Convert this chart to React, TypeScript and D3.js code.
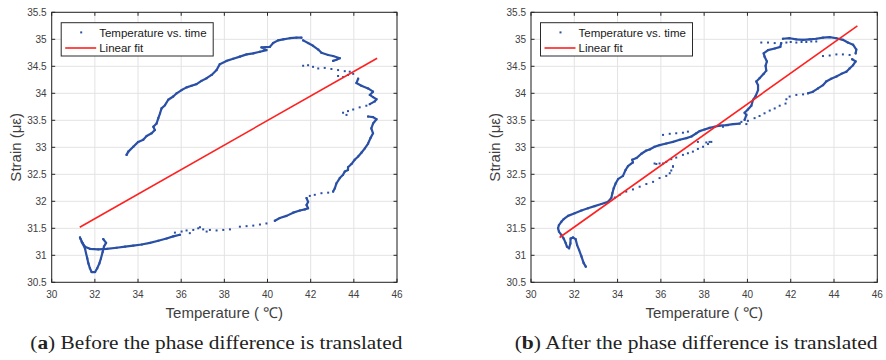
import React from 'react';
import * as d3 from 'd3';

type P = [number, number];

const xTicks = [30, 32, 34, 36, 38, 40, 42, 44, 46];
const yTicks = [30.5, 31, 31.5, 32, 32.5, 33, 33.5, 34, 34.5, 35, 35.5];
const xTickLabels = ['30', '32', '34', '36', '38', '40', '42', '44', '46'];
const yTickLabels = ['30.5', '31', '31.5', '32', '32.5', '33', '33.5', '34', '34.5', '35', '35.5'];
const legendLabels = ['Temperature vs. time', 'Linear fit'];

// ---- Panel (a): before translation ----
const leftDense: P[][] = [
  [[33.47,32.86],[33.55,32.92],[33.78,33.01],[34.01,33.10],[34.24,33.14],[34.40,33.21],[34.63,33.26],[34.78,33.32],[34.71,33.38],[34.86,33.44],[34.94,33.54],[35.02,33.63],[35.09,33.72],[35.25,33.78],[35.40,33.88],[35.63,33.94],[35.79,34.00],[36.02,34.06],[36.25,34.11],[36.48,34.14],[36.71,34.17],[36.94,34.23],[37.18,34.28],[37.41,34.34],[37.64,34.43],[37.79,34.54],[38.10,34.60],[38.41,34.64],[38.72,34.68],[39.03,34.72],[39.34,34.74],[39.65,34.77],[39.95,34.80],[39.72,34.85],[40.11,34.86],[40.26,34.93],[40.49,34.98],[40.73,35.00],[41.03,35.02],[41.34,35.03],[41.57,35.03]],
  [[41.65,34.98],[41.88,34.93],[42.11,34.88],[42.35,34.81],[42.50,34.75],[42.81,34.71],[43.04,34.69],[43.35,34.65],[43.19,34.62],[43.04,34.60]],
  [[44.20,34.27],[44.12,34.19],[44.35,34.14],[44.66,34.09],[44.89,34.03],[44.74,33.97],[44.89,33.93],[45.05,33.89],[44.97,33.85],[44.74,33.80]],
  [[44.66,33.57],[44.89,33.56],[45.05,33.52],[44.89,33.44],[44.81,33.35],[44.89,33.26],[44.77,33.17],[44.66,33.07],[44.51,32.98],[44.35,32.90],[44.20,32.83],[44.04,32.77],[43.89,32.69],[43.73,32.63],[43.73,32.58],[43.58,32.55],[43.50,32.49],[43.35,32.43],[43.19,32.33],[43.12,32.24],[43.04,32.18]],
  [[41.81,32.06],[41.88,31.99],[41.81,31.93],[41.88,31.87],[41.73,31.85],[41.50,31.83],[41.19,31.79],[40.88,31.73],[40.57,31.69],[40.34,31.64]],
  [[35.94,31.38],[35.63,31.35],[35.32,31.31],[34.94,31.27],[34.55,31.23],[34.17,31.20],[33.78,31.18],[33.40,31.16],[33.01,31.14],[32.55,31.12],[32.16,31.11],[31.77,31.12],[31.54,31.16],[31.44,31.22],[31.34,31.30],[31.31,31.33]],
  [[31.39,31.25],[31.54,31.13],[31.59,31.04],[31.65,30.94],[31.70,30.85],[31.77,30.76],[31.85,30.69],[32.01,30.69],[32.11,30.76],[32.21,30.85],[32.28,30.94],[32.36,31.06],[32.42,31.16],[32.52,31.23],[32.39,31.30]],
];
const leftSparse: P[] = [
  [41.65,34.51],[41.88,34.52],[42.11,34.49],[42.35,34.46],[42.65,34.47],[42.96,34.45],[43.27,34.43],[43.58,34.41],[43.81,34.40],
  [43.27,34.32],[43.50,34.30],[43.73,34.34],[43.97,34.36],
  [44.58,33.77],[44.27,33.74],[43.97,33.70],[43.73,33.67],[43.50,33.64],[43.66,33.60],
  [42.81,32.16],[42.50,32.15],[42.19,32.12],[41.96,32.10],
  [39.95,31.59],[39.65,31.57],[39.34,31.55],[39.03,31.54],[38.72,31.53],[38.26,31.48],[37.95,31.47],[37.64,31.46],[37.33,31.47],[37.02,31.48],[36.79,31.50],[36.56,31.47],[36.25,31.46],[36.02,31.44],[35.71,31.42],[36.87,31.52],[37.18,31.44],[36.40,31.41],
];
const leftFit: P[] = [[31.30, 31.52], [45.08, 34.65]];

// ---- Panel (b): after translation ----
const rightDense: P[][] = [
  [[32.53,30.79],[32.43,30.86],[32.33,30.98],[32.22,31.10],[32.13,31.19],[32.06,31.30],[31.94,31.33],[31.83,31.31],[31.82,31.22],[31.76,31.13],[31.66,31.16],[31.60,31.23],[31.51,31.31],[31.40,31.38],[31.29,31.44],[31.25,31.50],[31.29,31.56],[31.40,31.62],[31.51,31.67],[31.71,31.73],[32.02,31.78],[32.33,31.83],[32.63,31.87],[32.94,31.91],[33.25,31.95],[33.56,31.99],[33.71,32.06],[33.76,32.15],[33.82,32.24],[33.91,32.33],[34.02,32.41],[34.25,32.47],[34.37,32.58],[34.48,32.65],[34.71,32.72],[34.68,32.77],[34.87,32.80],[35.10,32.88],[35.33,32.94],[35.48,32.96],[35.71,33.01],[35.94,33.04],[36.25,33.07],[36.56,33.10],[36.87,33.14],[37.18,33.17],[37.41,33.20],[37.64,33.26],[37.79,33.30],[38.02,33.33],[38.25,33.36],[38.48,33.38],[38.72,33.40],[39.02,33.41],[39.33,33.43],[39.64,33.44]],
  [[39.87,33.51],[39.95,33.60],[39.87,33.64],[40.02,33.70],[40.18,33.77],[40.26,33.88],[40.38,33.95],[40.49,34.06],[40.49,34.15],[40.41,34.22],[40.56,34.28],[40.75,34.36],[40.87,34.42],[40.84,34.51],[40.90,34.59],[40.79,34.68],[40.75,34.74],[40.95,34.80],[41.26,34.83],[41.52,34.86],[41.56,34.93]],
  [[41.64,35.01],[41.95,35.02],[42.26,35.00],[42.57,34.99],[42.87,35.00],[43.18,35.01],[43.49,35.03],[43.80,35.04],[44.11,35.02],[44.41,34.99],[44.64,34.94],[44.88,34.90],[45.03,34.81],[45.00,34.74]],
  [[44.84,34.63],[45.00,34.59],[44.88,34.52],[44.72,34.46],[44.57,34.40],[44.34,34.36],[44.11,34.31],[43.87,34.27],[43.64,34.22],[43.49,34.15],[43.26,34.09],[43.03,34.03],[42.80,34.00]],
];
const rightSparse: P[] = [
  [40.64,34.94],[40.95,34.94],[41.26,34.93],
  [41.80,34.94],[42.26,34.94],[42.72,34.95],[43.18,34.96],[42.00,34.95],[42.50,34.95],[42.95,34.96],
  [44.72,34.71],[44.41,34.72],[44.11,34.72],[43.80,34.70],[43.49,34.69],
  [42.57,33.98],[42.26,33.97],[41.95,33.94],[41.80,33.89],[41.76,33.81],[41.49,33.77],[41.26,33.72],[41.03,33.68],[40.79,33.63],[40.56,33.58],[40.33,33.54],[40.02,33.49],[39.72,33.47],[39.41,33.43],[39.10,33.41],[38.87,33.38],[39.95,33.43],
  [38.25,33.10],[38.18,33.06],[37.95,33.01],[37.71,32.97],[37.48,32.92],[37.25,32.89],[37.02,32.86],[36.71,32.81],[36.48,32.78],[36.25,32.73],[35.94,32.70],[35.71,32.70],[36.56,32.64],[36.48,32.57],
  [36.41,32.52],[36.25,32.47],[35.94,32.43],[35.64,32.36],[35.33,32.32],[35.02,32.27],[34.71,32.22],[34.40,32.18],[34.10,32.12],[33.87,32.07],
  [36.10,33.23],[36.41,33.25],[36.71,33.26],[37.02,33.27],[37.25,33.29],[37.71,33.10],[38.10,33.09],[38.33,33.10],
  [35.79,32.69],[36.10,32.70],[36.56,32.65],
];
const rightFit: P[] = [[31.32, 31.33], [45.08, 35.25]];

const BLUE = '#2a50a6';
const RED = '#ff2020';
const AXIS = '#262626';
const TEXT = '#404040';
const SANS = "'Liberation Sans', Arial, sans-serif";
const SERIF = "'Liberation Serif', 'DejaVu Serif', serif";

interface PanelProps {
  left: number;
  right: number;
  dense: P[][];
  sparse: P[];
  fit: P[];
  letter: string;
  caption: string;
  captionWidth: number;
}

function Panel({ left, right, dense, sparse, fit, letter, caption, captionWidth }: PanelProps) {
  const top = 12.3;
  const bottom = 282.3;
  const x = d3.scaleLinear().domain([30, 46]).range([left, right]);
  const y = d3.scaleLinear().domain([30.5, 35.5]).range([bottom, top]);
  const line = d3.line<P>().x(d => x(d[0])).y(d => y(d[1]));
  const tl = 3.5;
  const cx = (left + right) / 2;
  const allDots: P[] = [...sparse, ...dense.flat()];
  const lgX = left + 9.5;
  const lgY = 22.7;
  return (
    <g>
      {/* grid */}
      {xTicks.map(t => (
        <line key={'gx' + t} x1={x(t)} x2={x(t)} y1={top} y2={bottom} stroke="#e3e3e3" strokeWidth={1} />
      ))}
      {yTicks.map(t => (
        <line key={'gy' + t} x1={left} x2={right} y1={y(t)} y2={y(t)} stroke="#e3e3e3" strokeWidth={1} />
      ))}
      {/* data */}
      {dense.map((seg, i) => (
        <path key={'d' + i} d={line(seg) || ''} fill="none" stroke={BLUE} strokeWidth={2.2} strokeLinejoin="round" strokeLinecap="round" />
      ))}
      {allDots.map((p, i) => (
        <rect key={'p' + i} x={x(p[0]) - 1} y={y(p[1]) - 1} width={2} height={2} fill={BLUE} />
      ))}
      <path d={line(fit) || ''} stroke={RED} strokeWidth={1.6} fill="none" />
      {/* axes box */}
      <rect x={left} y={top} width={right - left} height={bottom - top} fill="none" stroke={AXIS} strokeWidth={1} />
      {xTicks.map(t => (
        <g key={'tx' + t}>
          <line x1={x(t)} x2={x(t)} y1={bottom} y2={bottom - tl} stroke={AXIS} />
          <line x1={x(t)} x2={x(t)} y1={top} y2={top + tl} stroke={AXIS} />
        </g>
      ))}
      {yTicks.map(t => (
        <g key={'ty' + t}>
          <line x1={left} x2={left + tl} y1={y(t)} y2={y(t)} stroke={AXIS} />
          <line x1={right} x2={right - tl} y1={y(t)} y2={y(t)} stroke={AXIS} />
        </g>
      ))}
      {xTickLabels.map((s, i) => (
        <text key={'lx' + i} x={x(xTicks[i])} y={298} textAnchor="middle" fontFamily={SANS} fontSize={10} fill={TEXT}>{s}</text>
      ))}
      {yTickLabels.map((s, i) => (
        <text key={'ly' + i} x={left - 5} y={y(yTicks[i]) + 3.5} textAnchor="end" fontFamily={SANS} fontSize={10} fill={TEXT}>{s}</text>
      ))}
      <text x={cx} y={318} textAnchor="middle" fontFamily={SANS} fontSize={15} fill={TEXT}>Temperature ( ℃)</text>
      <text transform={`translate(${left - 31},${(top + bottom) / 2}) rotate(-90)`} textAnchor="middle" fontFamily={SANS} fontSize={15} fill={TEXT}>Strain (με)</text>
      {/* legend */}
      <rect x={lgX} y={lgY} width={152} height={33.3} fill="#fff" stroke="#2a2a2a" strokeWidth={1} />
      <rect x={lgX + 19} y={lgY + 8.7} width={2} height={2} fill={BLUE} />
      <text x={lgX + 38} y={lgY + 13.8} fontFamily={SANS} fontSize={11.5} fill="#1a1a1a">{legendLabels[0]}</text>
      <line x1={lgX + 4} x2={lgX + 35} y1={lgY + 25.3} y2={lgY + 25.3} stroke={RED} strokeWidth={1.6} />
      <text x={lgX + 38} y={lgY + 29.3} fontFamily={SANS} fontSize={11.5} fill="#1a1a1a">{legendLabels[1]}</text>
      {/* caption */}
      <text x={cx - 8} y={349} textAnchor="middle" fontFamily={SERIF} fontSize={18} fill="#222" textLength={captionWidth} lengthAdjust="spacingAndGlyphs">
        (<tspan fontWeight="bold">{letter}</tspan>) {caption}
      </text>
    </g>
  );
}

export default function App() {
  return (
    <svg width={886} height={360} style={{ position: 'absolute', left: 0, top: 0, background: '#fff' }}>
      <rect width={886} height={360} fill="#fff" />
      <Panel left={51.7} right={397} dense={leftDense} sparse={leftSparse} fit={leftFit} letter="a" caption="Before the phase difference is translated" captionWidth={372} />
      <Panel left={531} right={877.3} dense={rightDense} sparse={rightSparse} fit={rightFit} letter="b" caption="After the phase difference is translated" captionWidth={363} />
    </svg>
  );
}
